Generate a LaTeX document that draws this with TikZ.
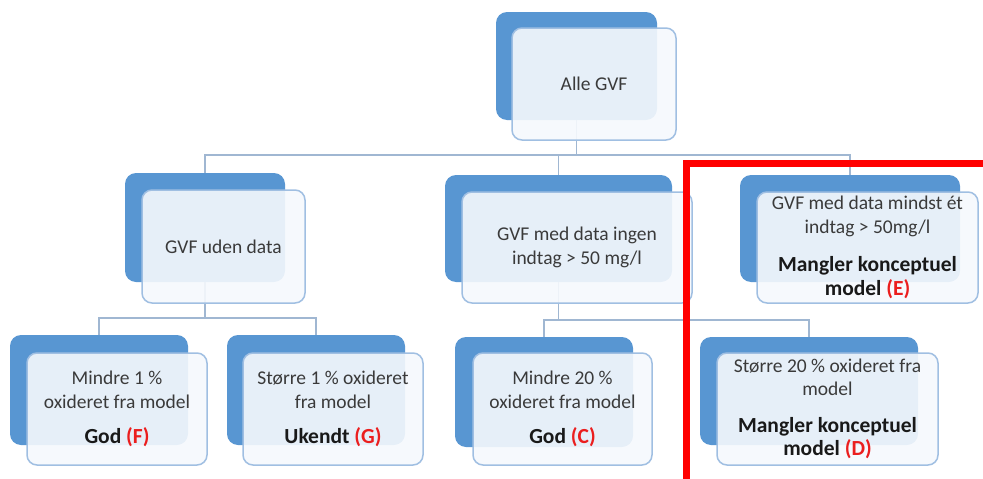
\documentclass[tikz,border=0pt]{standalone}
\usepackage{fontspec}
\setmainfont{Carlito}
\definecolor{backblue}{RGB}{88,150,210}
\definecolor{frontfill}{RGB}{246,249,253}
\definecolor{frontline}{RGB}{160,191,226}
\definecolor{connc}{RGB}{160,183,210}
\definecolor{txtgrey}{RGB}{58,58,58}
\definecolor{txtred}{RGB}{235,30,30}
\newcommand\bl[1]{{\fontsize{21.5}{23.5}\selectfont\bfseries\color{black!90}#1}}
\newcommand\rd[1]{{\color{txtred}#1}}
\tikzset{
  backbox/.style={draw=none, fill=backblue, rounded corners=11pt, inner sep=0pt},
  frontbox/.style={draw=frontline, line width=1.5pt, fill=frontfill, fill opacity=0.9, text opacity=1,
     rounded corners=10pt, inner sep=0pt, align=center, text=txtgrey,
     font=\fontsize{19.5}{23.5}\selectfont},
  conn/.style={draw=connc, line width=1.8pt}
}
\begin{document}
\begin{tikzpicture}[x=1pt,y=-1pt]
\useasboundingbox (0,0) rectangle (983,479);
\fill[white] (0,0) rectangle (983,479);
% back boxes
\node[backbox, minimum width=161pt, minimum height=108pt] (rootb) at (576.5,66) {};
\node[backbox, minimum width=160pt, minimum height=109pt] (ab) at (205,227.5) {};
\node[backbox, minimum width=227pt, minimum height=107pt] (bb) at (558.5,228.5) {};
\node[backbox, minimum width=220pt, minimum height=107pt] (eb) at (850,228.5) {};
\node[backbox, minimum width=178pt, minimum height=110pt] (fb) at (99,390) {};
\node[backbox, minimum width=178pt, minimum height=110pt] (gb) at (316,390) {};
\node[backbox, minimum width=178pt, minimum height=110pt] (cb) at (544,392) {};
\node[backbox, minimum width=218pt, minimum height=108pt] (db) at (809,391) {};
% junction coordinates
\coordinate (j1) at (0,155);
\coordinate (j2) at (0,318);
\coordinate (j3) at (0,320);
% connectors
\draw[conn] (rootb.south) -- (rootb.south |- j1);
\draw[conn] (ab.north) -- (ab.north |- j1) -- (eb.north |- j1) -- (eb.north);
\draw[conn] (bb.north) -- (bb.north |- j1);
\draw[conn] (fb.north) -- (fb.north |- j2) -- (gb.north |- j2) -- (gb.north);
\draw[conn] (ab.south) -- (ab.south |- j2);
\draw[conn] (cb.north) -- (cb.north |- j3) -- (db.north |- j3) -- (db.north);
\draw[conn] (bb.south) -- (bb.south |- j3);
% front boxes
\node[frontbox, minimum width=164pt, minimum height=112pt] (root) at (594,84) {Alle GVF};
\node[frontbox, minimum width=163pt, minimum height=113pt] (a) at (223.5,246.5) {GVF uden data};
\node[frontbox, minimum width=230pt, minimum height=111pt] (b) at (577,247.5) {GVF med data ingen\\indtag > 50 mg/l};
\node[frontbox, minimum width=221pt, minimum height=111pt] (e) at (867.5,247.5) {GVF med data mindst ét\\indtag > 50mg/l\\[15pt]\bl{Mangler konceptuel}\\\bl{model \rd{(E)}}};
\node[frontbox, minimum width=180pt, minimum height=112pt] (f) at (117,409) {Mindre 1 \%\\oxideret fra model\\[12pt]\bl{God \rd{(F)}}};
\node[frontbox, minimum width=180pt, minimum height=112pt] (g) at (333,409) {Større 1 \% oxideret\\fra model\\[12pt]\bl{Ukendt \rd{(G)}}};
\node[frontbox, minimum width=179pt, minimum height=112pt] (c) at (562.5,409) {Mindre 20 \%\\oxideret fra model\\[12pt]\bl{God \rd{(C)}}};
\node[frontbox, minimum width=221pt, minimum height=112pt] (d) at (827.5,409) {Større 20 \% oxideret fra\\model\\[13pt]\bl{Mangler konceptuel}\\\bl{model \rd{(D)}}};
% red highlight frame
\draw[red, line width=7pt, line join=miter] (686.5,490) -- (686.5,163) -- (995,163);
\end{tikzpicture}
\end{document}
